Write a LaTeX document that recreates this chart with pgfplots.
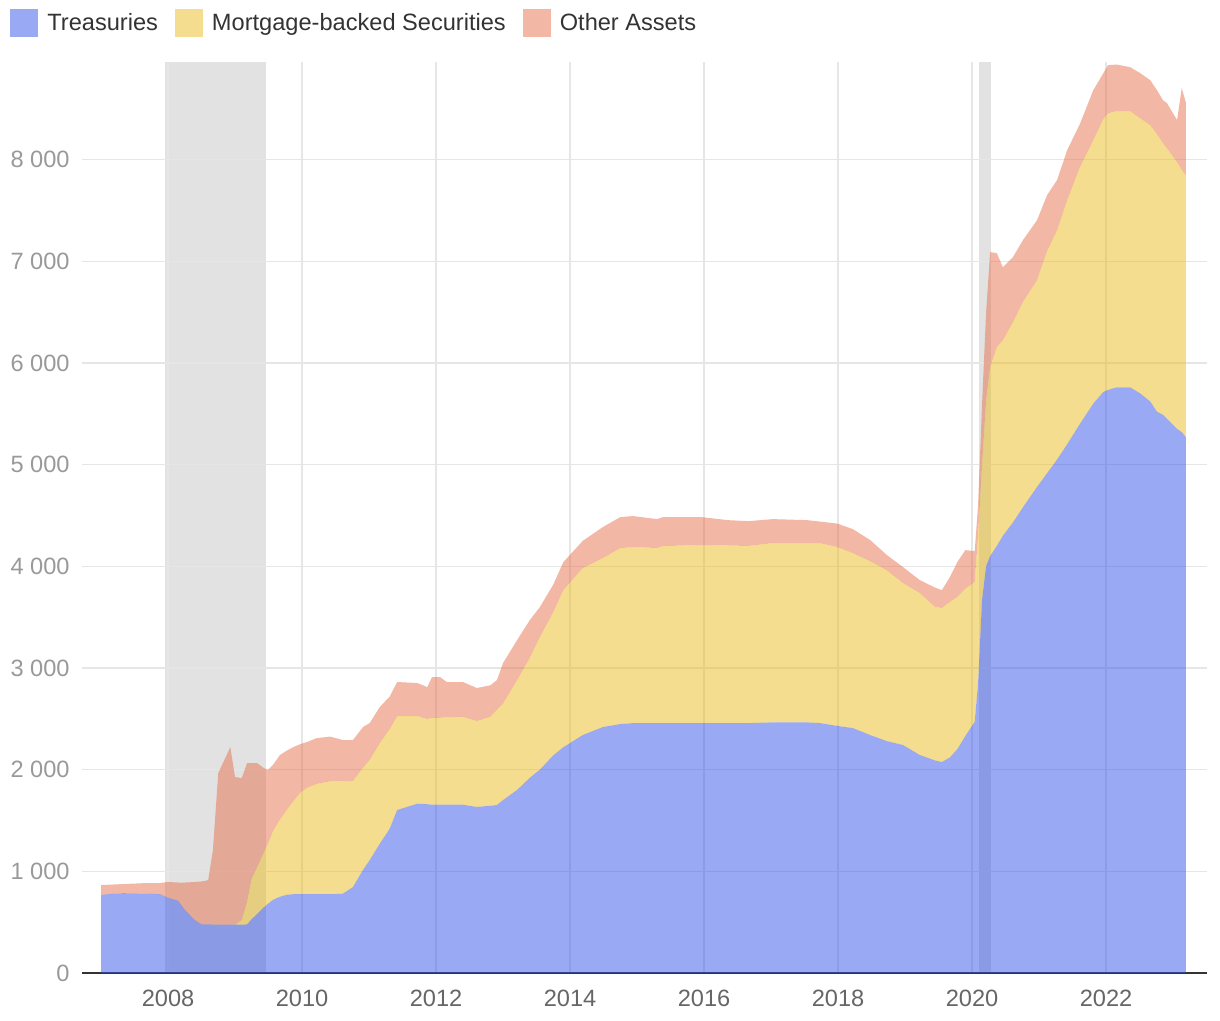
\documentclass[border=0pt]{standalone}
\usepackage{fontspec}
\setmainfont{Liberation Sans}
\usepackage{pgfplots}
\usepackage{pgfplotstable}
\pgfplotsset{compat=1.18}

\definecolor{tre}{RGB}{53,83,233}
\definecolor{mbs}{RGB}{233,187,29}
\definecolor{oth}{RGB}{229,111,75}
\definecolor{gridc}{RGB}{230,230,230}
\definecolor{band}{RGB}{226,226,226}
\definecolor{ylab}{RGB}{153,153,153}
\definecolor{xlab}{RGB}{102,102,102}
\definecolor{txt}{RGB}{51,51,51}

% Fed balance sheet, billions USD: treasuries, MBS, other assets
\pgfplotstableread{
year    T     M     O
2007.00 770   0     95
2007.33 785   0     90
2007.69 780   0     105
2007.88 775   0     110
2008.00 740   0     155
2008.15 710   0     180
2008.25 620   0     270
2008.40 520   0     375
2008.49 480   0     420
2008.55 478   0     427
2008.60 478   0     437
2008.67 477   0     733
2008.75 477   0     1490
2008.93 476   0     1746
2009.00 475   0     1452
2009.10 475   45    1397
2009.18 478   222   1365
2009.25 530   400   1135
2009.33 580   460   1025
2009.42 640   530   850
2009.49 680   590   726
2009.57 720   680   650
2009.67 750   760   634
2009.78 770   840   580
2009.87 775   915   532
2009.97 775   995   480
2010.07 775   1045  451
2010.22 775   1085  450
2010.42 775   1110  440
2010.61 780   1105  406
2010.76 845   1045  401
2010.91 1013  1007  399
2011.01 1110  985   363
2011.16 1270  990   356
2011.31 1420  980   320
2011.42 1603  924   335
2011.72 1665  862   325
2011.87 1660  838   314
2011.94 1655  855   401
2012.06 1655  855   401
2012.16 1655  860   347
2012.40 1655  865   342
2012.61 1633  845   325
2012.81 1645  875   310
2012.91 1652  938   291
2013.00 1700  950   398
2013.21 1800  1081  393
2013.40 1920  1180  371
2013.55 2000  1304  295
2013.75 2140  1410  270
2013.90 2220  1546  275
2014.19 2340  1642  268
2014.49 2419  1662  305
2014.75 2448  1731  305
2014.94 2458  1731  305
2015.30 2458  1722  284
2015.39 2458  1741  285
2015.96 2458  1751  275
2016.36 2458  1747  249
2016.66 2458  1742  244
2017.03 2465  1763  236
2017.54 2465  1763  226
2017.73 2458  1770  212
2017.99 2430  1759  231
2018.22 2409  1721  236
2018.48 2340  1710  208
2018.73 2280  1680  150
2018.97 2242  1593  157
2019.22 2144  1593  127
2019.45 2090  1509  191
2019.55 2075  1515  176
2019.67 2120  1530  244
2019.78 2200  1500  341
2019.90 2330  1450  379
2020.04 2470  1375  305
2020.09 2850  1450  300
2020.15 3670  1330  600
2020.21 4000  1630  870
2020.27 4100  1860  1130
2020.37 4200  1955  925
2020.46 4300  1924  718
2020.61 4430  1970  640
2020.76 4580  2020  608
2020.97 4780  2034  590
2021.12 4915  2185  550
2021.27 5050  2256  494
2021.42 5200  2401  492
2021.61 5400  2525  425
2021.81 5600  2591  492
2021.96 5715  2685  450
2022.03 5735  2721  473
2022.16 5760  2716  459
2022.36 5760  2716  433
2022.51 5700  2707  443
2022.66 5620  2718  443
2022.76 5520  2730  433
2022.85 5490  2671  423
2022.91 5450  2662  443
2023.06 5350  2625  413
2023.13 5320  2580  802
2023.19 5270  2577  718
}\fed

\pgfplotsset{fedbox/.style={
    scale only axis,
    width=562.5pt, height=455.5pt,
    xmin=2006.716, xmax=2023.507,
    ymin=0, ymax=8960,
}}

\begin{document}
\begin{tikzpicture}
% recession bands, drawn under the grid
\begin{axis}[fedbox, hide axis]
\fill[band] (axis cs:2007.96,0) rectangle (axis cs:2009.46,8960);
\fill[band] (axis cs:2020.10,0) rectangle (axis cs:2020.28,8960);
\end{axis}
\begin{axis}[
    fedbox,
    stack plots=y,
    axis on top=false,
    axis x line*=bottom,
    axis y line*=left,
    x axis line style={draw=txt, line width=1pt, -},
    y axis line style={draw=none},
    major tick length=0pt,
    xtick={2008,2010,...,2022},
    ytick={0,1000,...,8000},
    grid=major,
    major grid style={draw=gridc, line width=0.7pt},
    /pgf/number format/assume math mode=true,
    xticklabel style={/pgf/number format/1000 sep={}, font=\fontsize{11.8pt}{14pt}\selectfont, text=xlab, inner sep=0pt, anchor=north, yshift=-8.5pt},
    yticklabel style={/pgf/number format/1000 sep={\ }, font=\fontsize{11.8pt}{14pt}\selectfont, text=ylab, inner sep=0pt, anchor=east, xshift=-6pt},
    legend columns=-1,
    legend style={at={(0,1)}, anchor=north west, xshift=-36pt, yshift=26.5pt,
        draw=none, fill=none, inner sep=0pt,
        font=\fontsize{11.8pt}{14pt}\selectfont, text=txt,
        nodes={inner xsep=0pt, inner ysep=0pt},
        /tikz/every odd column/.append style={column sep=4.5pt},
        /tikz/every even column/.append style={column sep=8.5pt}},
    legend image code/.code={\fill[#1, draw=none] (0pt,-7pt) rectangle (14pt,7pt);},
]
\addplot[draw=none, fill=tre, fill opacity=0.5, mark=none] table[x=year, y=T]{\fed} \closedcycle;
\addplot[draw=none, fill=mbs, fill opacity=0.5, mark=none] table[x=year, y=M]{\fed} \closedcycle;
\addplot[draw=none, fill=oth, fill opacity=0.5, mark=none] table[x=year, y=O]{\fed} \closedcycle;
\legend{Treasuries, Mortgage-backed Securities, Other Assets}
\end{axis}
\path ([xshift=-41pt, yshift=-23.5pt]current axis.south west) rectangle ([xshift=6.5pt, yshift=31pt]current axis.north east);
\end{tikzpicture}
\end{document}
